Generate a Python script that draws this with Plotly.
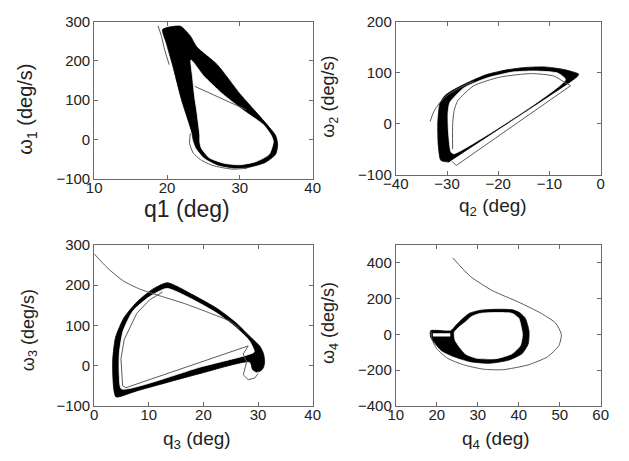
import plotly.graph_objects as go

# ---------------- Panel 1: q1 vs omega1 ----------------
p1_outer_q = [19.4, 21.85, 23.2, 24.1, 26.9, 30.0, 33.1, 34.9, 35.2, 34.9, 33.5, 31.3, 29.1, 26.9, 25.1, 24.0, 23.6, 23.4, 22.0, 20.75, 19.9, 19.4]
p1_outer_w = [280, 288, 263, 235, 190, 116, 51, 10, -14, -39, -59, -71, -73, -65, -47, -22, -2, 18, 100, 190, 245, 280]
p1_hole_q = [23.3, 25.0, 27.6, 30.6, 33.3, 34.3, 34.6, 34.0, 32.2, 30.0, 27.8, 25.8, 24.7, 24.5, 24.5, 24.1, 23.8, 23.5, 23.3]
p1_hole_w = [202, 162, 116, 72, 36, 10, -6, -39, -57, -65, -61, -47, -22, -6, 10, 70, 108, 160, 202]
p1_thin_a_q = [18.76, 19.2, 19.65, 20.3]
p1_thin_a_w = [289, 265, 230, 190]
p1_thin_b_q = [23.8, 30.9]
p1_thin_b_w = [135, 75]
p1_thin_c_q = [23.2, 23.1, 23.6, 24.6, 26.3, 28.9, 31.0]
p1_thin_c_w = [15, -10, -35, -52, -67, -76, -74]

# ---------------- Panel 2: q2 vs omega2 ----------------
p2_outer_q = [-30.4, -28.6, -25.4, -22.3, -18.5, -14.7, -10.9, -7.2, -4.3, -4.5, -6.2, -29.2, -29.6, -31.2, -31.7, -31.8, -31.4, -30.4]
p2_outer_w = [55, 67, 83, 96, 105, 110, 111, 106, 97, 93, 80, -72, -75, -72, -43, 1, 39, 55]
p2_hole_q = [-29.2, -26.7, -22.3, -17.2, -12.8, -8.4, -6.9, -28.6, -29.2, -29.7, -29.8, -29.5, -29.2]
p2_hole_w = [45, 70, 89, 101, 103, 99, 86, -59, -56, -18, 20, 40, 45]
p2_thin_a_q = [-33.3, -32.6, -31.5, -30.0, -27.5, -24.8]
p2_thin_a_w = [4, 23, 40, 55, 70, 83]
p2_thin_b_q = [-28.9, -28.9, -28.6, -27.9, -24.8, -19.7, -13.5, -9.1, -6.5]
p2_thin_b_w = [-50, -1, 26, 45, 74, 91, 98, 93, 77]
p2_thin_c_q = [-29.0, -28.2, -5.9, -6.4]
p2_thin_c_w = [-74, -82, 74, 78]

# ---------------- Panel 3: q3 vs omega3 ----------------
p3_outer_q = [13.4, 17.8, 22.5, 26.0, 29.0, 30.3, 31.0, 31.2, 31.0, 30.5, 29.7, 29.0, 28.5, 19.6, 7.8, 4.0, 3.6, 3.4, 3.4, 3.9, 5.4, 7.8, 10.7, 13.4]
p3_outer_w = [206, 178, 142, 106, 66, 49, 30, 10, -5, -13, -16, -10, 9, -19, -63, -78, -60, -23, 17, 70, 118, 158, 190, 206]
p3_hole_q = [13.3, 17.8, 22.5, 26.0, 28.4, 29.3, 27.9, 19.6, 5.0, 4.6, 4.6, 5.3, 7.1, 10.1, 13.3]
p3_hole_w = [192, 166, 130, 94, 62, 34, 26, -3, -58, -26, 30, 86, 136, 171, 192]
p3_thin_a_q = [0.0, 2.5, 5.4, 8.4, 11.9, 16.6, 21.3, 24.9, 26.6]
p3_thin_a_w = [278, 242, 210, 190, 174, 154, 130, 110, 92]
p3_thin_b_q = [12.5, 10.1, 7.8, 6.7, 5.5, 4.9, 5.2, 5.8, 28.2, 27.3, 27.9, 27.3, 28.2, 29.4, 30.0]
p3_thin_b_w = [183, 163, 130, 97, 65, 17, -50, -55, 49, 29, 9, -23, -35, -31, -20]

# ---------------- Panel 4: q4 vs omega4 ----------------
p4_outer_q = [23.4, 24.7, 26.3, 28.0, 30.5, 34.5, 38.5, 40.3, 41.6, 42.5, 42.3, 40.8, 37.6, 32.9, 28.2, 24.3, 21.1, 19.2, 18.5, 18.5, 23.4]
p4_outer_w = [20, 51, 87, 118, 134, 140, 137, 120, 90, 18, -54, -108, -144, -162, -153, -126, -90, -40, -15, 20, 20]
p4_hole_q = [24.3, 25.5, 27.0, 28.5, 30.6, 34.5, 38.4, 40.0, 40.6, 40.9, 40.4, 38.4, 34.5, 29.8, 27.0, 25.5, 24.5, 24.3, 24.3]
p4_hole_w = [12, 42, 69, 100, 117, 122, 117, 90, 40, 0, -63, -108, -136, -134, -110, -70, -35, -12, 12]
p4_flag_q = [19.05, 23.3, 23.3, 19.05, 19.05]
p4_flag_w = [-12, -12, 6, 6, -12]
p4_thin_q = [23.9, 28.2, 33.7, 40.0, 45.5, 49.0, 50.4, 49.8, 47.0, 42.3, 36.1, 31.4, 26.6, 22.7, 20.0, 18.8, 18.6]
p4_thin_w = [428, 324, 243, 180, 117, 63, 0, -63, -126, -171, -198, -195, -171, -135, -81, -27, 18]

# ---------------- Axes setup ----------------
x_ranges = [[10, 40], [-40, 0], [0, 40], [10, 60]]
y_ranges = [[-100, 300], [-100, 200], [-100, 300], [-400, 500]]
x_ticks = [[10, 20, 30, 40], [-40, -30, -20, -10, 0], [0, 10, 20, 30, 40], [10, 20, 30, 40, 50, 60]]
y_ticks = [[-100, 0, 100, 200, 300], [-100, 0, 100, 200], [-100, 0, 100, 200, 300], [-400, -200, 0, 200, 400]]
x_titles = ["q1 (deg)", "q<sub>2</sub> (deg)", "q<sub>3</sub> (deg)", "q<sub>4</sub> (deg)"]
y_titles = ["ω<sub>1</sub> (deg/s)", "ω<sub>2</sub> (deg/s)", "ω<sub>3</sub> (deg/s)", "ω<sub>4</sub> (deg/s)"]

W, H = 629, 461
# plot boxes in pixels: (left, right, top, bottom)
boxes = [(84, 310, 13, 176), (396, 608, 13, 172), (84, 310, 245, 412), (396, 608, 245, 412)]

BAND = "#000000"
THIN = "#5a5a5a"
AX = "#6a6a6a"
FONT = "Liberation Sans, Arial, sans-serif"

fig = go.Figure()


def add_poly(q, w, k, color):
    fig.add_trace(go.Scatter(x=q, y=w, mode="lines", fill="toself", fillcolor=color,
                             line=dict(color=color, width=0.8, shape="spline", smoothing=0.6),
                             xaxis="x" + ("" if k == 1 else str(k)), yaxis="y" + ("" if k == 1 else str(k)),
                             hoverinfo="skip", showlegend=False))


def add_line(q, w, k, shape="spline"):
    fig.add_trace(go.Scatter(x=q, y=w, mode="lines",
                             line=dict(color=THIN, width=1, shape=shape, smoothing=0.6),
                             xaxis="x" + ("" if k == 1 else str(k)), yaxis="y" + ("" if k == 1 else str(k)),
                             hoverinfo="skip", showlegend=False))


# Panel 1
add_poly(p1_outer_q, p1_outer_w, 1, BAND)
add_poly(p1_hole_q, p1_hole_w, 1, "white")
add_line(p1_thin_a_q, p1_thin_a_w, 1)
add_line(p1_thin_b_q, p1_thin_b_w, 1, "linear")
add_line(p1_thin_c_q, p1_thin_c_w, 1)
# Panel 2
add_poly(p2_outer_q, p2_outer_w, 2, BAND)
add_poly(p2_hole_q, p2_hole_w, 2, "white")
add_line(p2_thin_a_q, p2_thin_a_w, 2)
add_line(p2_thin_b_q, p2_thin_b_w, 2)
add_line(p2_thin_c_q, p2_thin_c_w, 2, "linear")
# Panel 3
add_poly(p3_outer_q, p3_outer_w, 3, BAND)
add_poly(p3_hole_q, p3_hole_w, 3, "white")
add_line(p3_thin_a_q, p3_thin_a_w, 3)
add_line(p3_thin_b_q, p3_thin_b_w, 3, "linear")
# Panel 4
add_poly(p4_outer_q, p4_outer_w, 4, BAND)
add_poly(p4_hole_q, p4_hole_w, 4, "white")
fig.add_trace(go.Scatter(x=p4_flag_q, y=p4_flag_w, mode="lines", fill="toself", fillcolor="white",
                         line=dict(color="white", width=0), xaxis="x4", yaxis="y4",
                         hoverinfo="skip", showlegend=False))
add_line(p4_thin_q, p4_thin_w, 4)

layout = dict(width=W, height=H, margin=dict(l=0, r=0, t=0, b=0),
              paper_bgcolor="white", plot_bgcolor="white", showlegend=False,
              font=dict(family=FONT, color="#222222", size=15))

annotations = []
for i in range(4):
    k = i + 1
    l, r, t, b = boxes[i]
    xa = "xaxis" + ("" if k == 1 else str(k))
    ya = "yaxis" + ("" if k == 1 else str(k))
    common = dict(showline=True, linecolor=AX, linewidth=1, mirror="ticks", ticks="inside",
                  ticklen=4, tickwidth=1, tickcolor=AX, showgrid=False, zeroline=False,
                  tickfont=dict(size=15, family=FONT, color="#222222"), fixedrange=True)
    layout[xa] = dict(domain=[l / W, r / W], range=x_ranges[i], tickvals=x_ticks[i],
                      ticklabelstandoff=-5,
                      anchor="y" + ("" if k == 1 else str(k)), **common)
    layout[ya] = dict(domain=[1 - b / H, 1 - t / H], range=y_ranges[i], tickvals=y_ticks[i],
                      anchor="x" + ("" if k == 1 else str(k)), **common)

title_pos_x = [(180, 208, 23), (497, 206, 19), (190, 447, 19), (500, 447, 19)]
title_pos_y = [(14, 104, 20), (328, 91, 18), (17, 333, 18), (328, 326, 18)]
for i in range(4):
    xp, yp, fs = title_pos_x[i]
    annotations.append(dict(text=x_titles[i], x=xp / W, y=1 - yp / H, xref="paper", yref="paper",
                            xanchor="center", yanchor="middle", showarrow=False,
                            font=dict(size=fs, family=FONT, color="#222222")))
    xp, yp, fs = title_pos_y[i]
    annotations.append(dict(text=y_titles[i], x=xp / W, y=1 - yp / H, xref="paper", yref="paper",
                            xanchor="center", yanchor="middle", showarrow=False, textangle=-90,
                            font=dict(size=fs, family=FONT, color="#222222")))
layout["annotations"] = annotations

fig.update_layout(**layout)
fig.write_html("out.html")
